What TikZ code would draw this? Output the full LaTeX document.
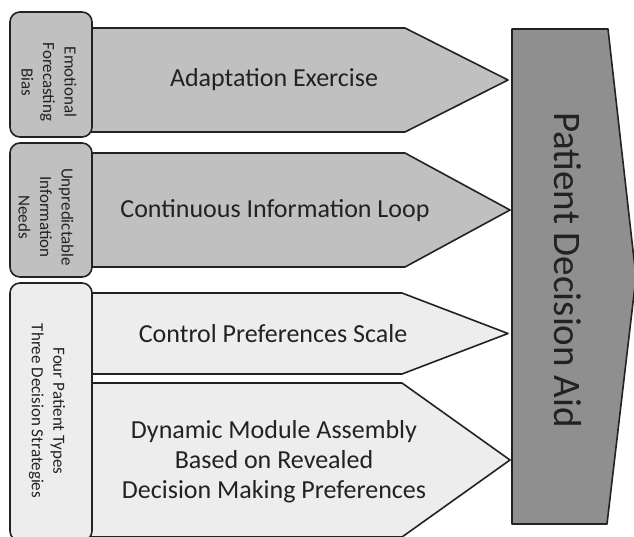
\documentclass[tikz,border=0pt]{standalone}
\usepackage{fontspec}
\setmainfont{Carlito}

\definecolor{midgray}{HTML}{C0C0C0}
\definecolor{palegray}{HTML}{EDEDED}
\definecolor{aidgray}{HTML}{8F8F8F}
\definecolor{inkgray}{HTML}{222222}

\begin{document}
\begin{tikzpicture}[x=1pt, y=-1pt,
        panel/.style={draw=inkgray, line width=1.6pt, line join=round},
        sidebox/.style={panel, rounded corners=10pt},
        sidelabel/.style={rotate=-90, align=center, text=inkgray,
            font=\fontsize{17}{21.5}\selectfont},
        steplabel/.style={align=center, text=inkgray,
            font=\fontsize{26}{30}\selectfont}
    ]
        \clip (0,0) rectangle (634,536);

        % Chevrons, drawn first so the side boxes cover their left ends
        \draw[panel, fill=midgray] (80,28) -- (405,28) -- (508,80) -- (405,132) -- (80,132) -- cycle;
        \draw[panel, fill=midgray] (80,153) -- (405,153) -- (510,210) -- (405,267) -- (80,267) -- cycle;
        \draw[panel, fill=palegray] (80,293) -- (402,293) -- (508,333.5) -- (402,374) -- (80,374) -- cycle;
        \draw[panel, fill=palegray] (80,383) -- (402,383) -- (510,460) -- (402,537) -- (80,537) -- cycle;

        % Side boxes
        \draw[sidebox, fill=midgray] (10,12) rectangle (92,137);
        \draw[sidebox, fill=midgray] (10,143) rectangle (92,277);
        \draw[sidebox, fill=palegray] (10,283) rectangle (92,541);

        % Big arrow on the right
        \draw[panel, fill=aidgray] (512,29) -- (608,29) -- (636,277) -- (607,524) -- (512,524) -- cycle;

        % Labels
        \node[sidelabel] (bias) at (49,82) {Emotional\\Forecasting\\Bias};
        \node[sidelabel] (needs) at (46,217) {Unpredictable\\Information\\Needs};
        \node[sidelabel] (types) at (47,411) {Four Patient Types\\Three Decision Strategies};

        \node[steplabel] (adapt) at (274,80) {Adaptation Exercise};
        \node[steplabel] (loop) at (275,211) {Continuous Information Loop};
        \node[steplabel] (scale) at (273,334) {Control Preferences Scale};
        \node[steplabel] (assembly) at (274,462)
            {Dynamic Module Assembly\\Based on Revealed\\Decision Making Preferences};

        \node[rotate=-90, text=inkgray, font=\fontsize{39}{44}\selectfont] (aid) at (568,270)
            {Patient Decision Aid};
    \end{tikzpicture}
\end{document}
